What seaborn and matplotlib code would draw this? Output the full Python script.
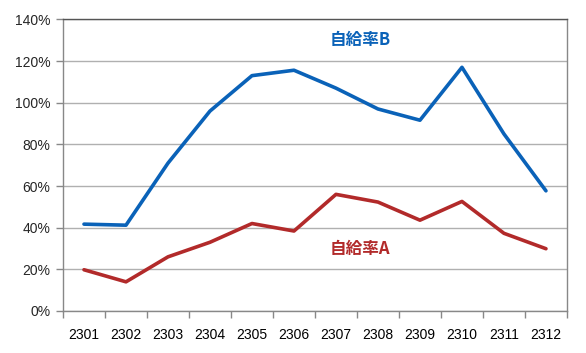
import matplotlib
matplotlib.use('Agg')
import matplotlib.pyplot as plt
import matplotlib.ticker as mticker
import seaborn as sns
import pandas as pd

# monthly self-sufficiency rates (%)
months = ['2301', '2302', '2303', '2304', '2305', '2306',
          '2307', '2308', '2309', '2310', '2311', '2312']
rate_b = [41.7, 41.2, 71.0, 96.0, 113.0, 115.6, 107.0, 97.0, 91.6, 117.0, 85.0, 57.7]
rate_a = [19.8, 14.0, 26.0, 33.0, 42.0, 38.4, 56.0, 52.3, 43.6, 52.6, 37.3, 29.9]

df = pd.DataFrame({'month': months, 'B': rate_b, 'A': rate_a})

sns.set_style('white')
plt.rcParams['font.family'] = ['Liberation Sans', 'Noto Sans CJK JP']

fig = plt.figure(figsize=(5.86, 3.53), dpi=100)
ax = fig.add_axes([0.1075, 0.119, 0.860, 0.826])

blue = '#0a62b8'
red = '#b22a2a'
sns.lineplot(data=df, x='month', y='B', color=blue, linewidth=2.6, ax=ax, sort=False)
sns.lineplot(data=df, x='month', y='A', color=red, linewidth=2.6, ax=ax, sort=False)

ax.set_xlim(-0.5, len(months) - 0.5)
ax.set_ylim(0, 140)
ax.yaxis.set_major_locator(mticker.MultipleLocator(20))
ax.yaxis.set_major_formatter(mticker.FuncFormatter(lambda v, p: f'{v:.0f}%'))
ax.grid(axis='y', color='#b0b0b0', linewidth=1.0)
ax.set_axisbelow(True)

# tick marks sit on category boundaries, labels in the middle
ax.xaxis.set_minor_locator(mticker.FixedLocator([i - 0.5 for i in range(len(months) + 1)]))
ax.tick_params(axis='x', which='major', length=0, labelsize=10, pad=12, colors='black')
ax.tick_params(axis='x', which='minor', length=5, width=1, color='#888888', direction='out')
ax.tick_params(axis='y', which='major', length=5, width=1, color='#888888', labelsize=10, pad=4)
ax.tick_params(axis='x', which='minor', bottom=True)
ax.tick_params(axis='y', left=True)

ax.set_xlabel('')
ax.set_ylabel('')

for side in ['left', 'bottom', 'right']:
    ax.spines[side].set_color('#888888')
    ax.spines[side].set_linewidth(1)
ax.spines['top'].set_color('#555555')
ax.spines['top'].set_linewidth(1)

# series labels inside the plot
ax.text(5.85, 130, '自給率B', color=blue, fontsize=12, fontweight='bold',
        ha='left', va='center', family=['Noto Sans CJK JP', 'DejaVu Sans'])
ax.text(5.85, 30, '自給率A', color=red, fontsize=12, fontweight='bold',
        ha='left', va='center', family=['Noto Sans CJK JP', 'DejaVu Sans'])

fig.savefig('out.png', dpi=100)
